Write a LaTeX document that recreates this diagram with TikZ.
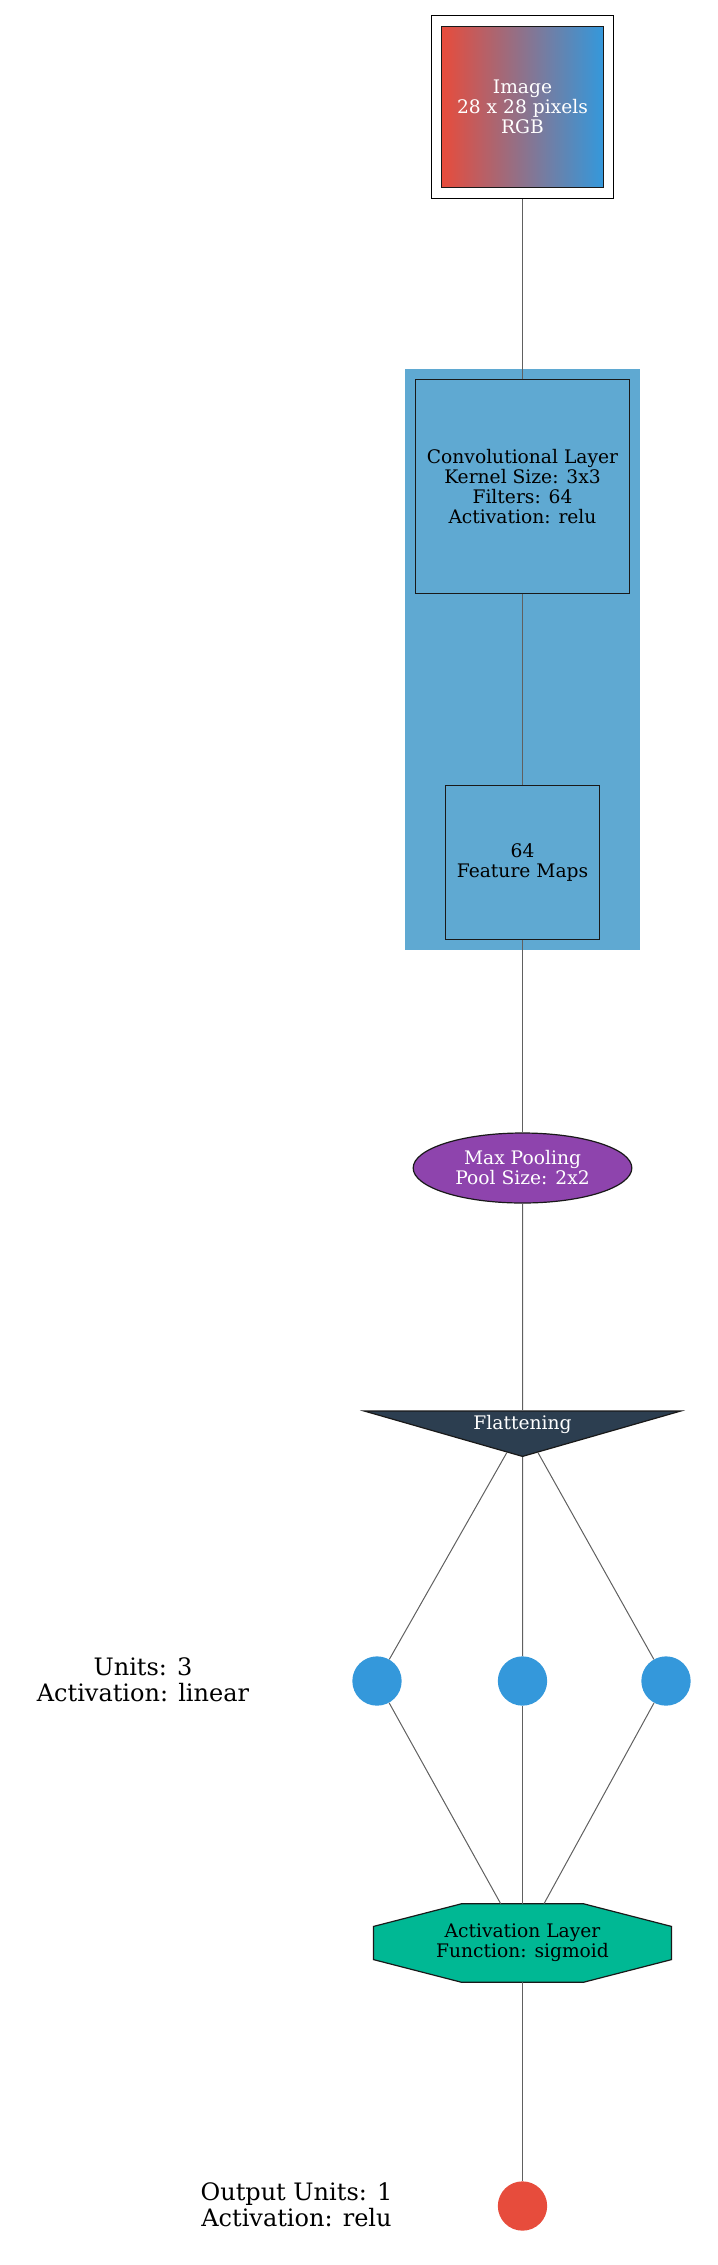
\documentclass[tikz,border=0pt]{standalone}
\usepackage{fontspec}
\setmainfont{DejaVu Serif}
\usepackage{tikz}
\usetikzlibrary{shapes.geometric,fit,backgrounds}

\definecolor{imgred}{HTML}{E74C3C}
\definecolor{imgblue}{HTML}{3498DB}
\definecolor{convblue}{HTML}{5FA9D2}
\definecolor{poolpurple}{HTML}{8E44AD}
\definecolor{flatdark}{HTML}{2C3E50}
\definecolor{unitblue}{HTML}{3498DB}
\definecolor{actteal}{HTML}{00B894}
\definecolor{outred}{HTML}{E74C3C}
\definecolor{linkgray}{HTML}{606060}

\begin{document}
\begin{tikzpicture}[
  x=0.75pt, y=-0.75pt,
  font=\fontsize{14pt}{15pt}\selectfont,
  layer/.style={
    draw=black!90,
    line width=0.9pt,
    align=center,
    inner sep=0pt
  },
  unit/.style={circle, fill=unitblue, minimum size=37pt, inner sep=0pt},
  note/.style={align=center, font=\fontsize{18pt}{19.5pt}\selectfont},
  link/.style={draw=linkgray, line width=0.75pt}
]
  \useasboundingbox (0,0) rectangle (717,2265);

  % input image
  \node[layer, minimum size=121pt, left color=imgred, right color=imgblue, text=white] (img) at (522.5,107) {Image\\28 x 28 pixels\\RGB};
  \node[draw, line width=0.75pt, fit=(img), inner sep=7.5pt] (imgframe) {};

  % convolution block
  \node[layer, fill=convblue, minimum size=160pt] (conv) at (522.5,486.5) {Convolutional Layer\\Kernel Size: 3x3\\Filters: 64\\Activation: relu};
  \node[layer, fill=convblue, minimum size=116pt] (fmaps) at (522.5,862.5) {64\\Feature Maps};
  \begin{scope}[on background layer]
    \node[fill=convblue, fit=(conv)(fmaps), inner sep=7.5pt] (convblock) {};
  \end{scope}

  \node[layer, ellipse, fill=poolpurple, text=white, minimum width=164pt, minimum height=52.5pt] (pool) at (522.5,1168) {Max Pooling\\Pool Size: 2x2};
  \node[layer, isosceles triangle, isosceles triangle apex angle=148, shape border rotate=270,
    fill=flatdark, text=white, text width=91pt, text height=14pt, text depth=7pt] (flat) at (522.5,1425) {Flattening};

  % dense units
  \foreach \x/\n in {377/u1, 522.5/u2, 666/u3}
    \node[unit] (\n) at (\x,1681) {};
  \node[note] (unitsnote) at (143,1680) {Units: 3\\Activation: linear};

  % octagon drawn round the label
  \node[align=center, minimum width=223pt, minimum height=58.5pt] (act) at (522.5,1943) {Activation Layer\\Function: sigmoid};
  \begin{scope}[on background layer]
    \filldraw[draw=black!90, fill=actteal, line width=0.9pt]
      ([xshift=66pt]act.north west) -- ([xshift=-66pt]act.north east)
      -- ([yshift=-17pt]act.north east) -- ([yshift=17pt]act.south east)
      -- ([xshift=-66pt]act.south east) -- ([xshift=66pt]act.south west)
      -- ([yshift=17pt]act.south west) -- ([yshift=-17pt]act.north west) -- cycle;
  \end{scope}

  \node[unit, fill=outred] (out) at (522.5,2206) {};
  \node[note] (outnote) at (296.5,2205) {Output Units: 1\\Activation: relu};

  \draw[link] (imgframe) -- (conv);
  \draw[link] (conv) -- (fmaps);
  \draw[link] (fmaps) -- (pool);
  \draw[link] (pool) -- (flat);
  \foreach \n in {u1,u2,u3} {
    \draw[link] (flat) -- (\n);
    \draw[link] (\n) -- (act);
  }
  \draw[link] (act) -- (out);
\end{tikzpicture}
\end{document}
